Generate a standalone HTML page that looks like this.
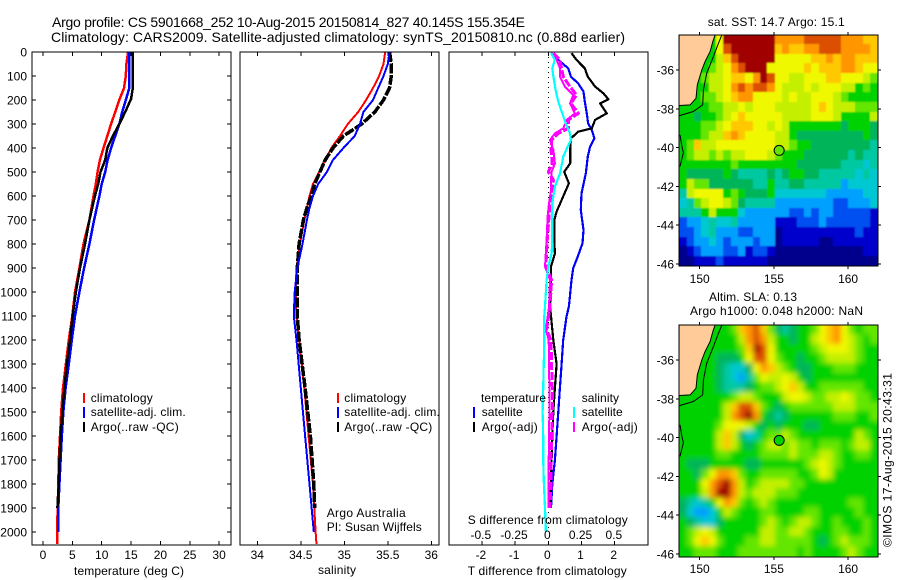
<!DOCTYPE html>
<html>
<head>
<meta charset="utf-8">
<title>Argo profile</title>
<style>
html,body{margin:0;padding:0;background:#fff;width:900px;height:580px;overflow:hidden}
svg{display:block}
text{font-family:"Liberation Sans",sans-serif;font-size:12px;fill:#000}
.t14{font-size:14px}
.frame{fill:none;stroke:#000;stroke-width:1.4;shape-rendering:crispEdges}
.tick{stroke:#000;stroke-width:1;shape-rendering:crispEdges}
.ln{fill:none;shape-rendering:crispEdges;stroke-linejoin:round}
.key{shape-rendering:crispEdges}
</style>
</head>
<body>
<svg id="chart" xmlns="http://www.w3.org/2000/svg" width="900" height="580" viewBox="0 0 900 580">
<defs>
<clipPath id="clipSst"><rect x="679" y="35" width="199" height="231"/></clipPath>
<clipPath id="clipSla"><rect x="679" y="325" width="199" height="232"/></clipPath>
<filter id="softSst" filterUnits="userSpaceOnUse" x="650" y="10" width="250" height="280"><feGaussianBlur stdDeviation="0.7"/></filter>
<filter id="softSla" filterUnits="userSpaceOnUse" x="650" y="300" width="250" height="280"><feGaussianBlur stdDeviation="2.6"/></filter>
</defs>
<rect width="900" height="580" fill="#fff"/>

<text class="t14" x="52" y="27" textLength="473" lengthAdjust="spacing">Argo profile: CS 5901668_252 10-Aug-2015 20150814_827 40.145S 155.354E</text>
<text class="t14" x="51" y="42" textLength="574" lengthAdjust="spacing">Climatology: CARS2009. Satellite-adjusted climatology: synTS_20150810.nc (0.88d earlier)</text>

<g clip-path="url(#clipSst)"><g id="sstCells" filter="url(#softSst)"></g></g>
<g clip-path="url(#clipSla)"><g id="slaCells" filter="url(#softSla)"></g></g>
<g id="sstOver" clip-path="url(#clipSst)"></g>
<g id="slaOver" clip-path="url(#clipSla)"></g>
<g id="ticks"></g>
<g id="marks"></g>
<g id="labels"></g>

<rect class="frame" x="32" y="52" width="199" height="493"/>
<rect class="frame" x="240" y="52" width="199" height="493"/>
<rect class="frame" x="449" y="52" width="199" height="493"/>
<rect class="frame" x="679" y="35" width="199" height="231"/>
<rect class="frame" x="679" y="325" width="199" height="232"/>

<text x="74" y="575" textLength="110">temperature (deg C)</text>
<text x="318" y="574" textLength="38">salinity</text>
<text x="467.7" y="575" textLength="159">T difference from climatology</text>
<text x="467.7" y="524" textLength="160">S difference from climatology</text>

<rect class="key" x="83" y="393" width="2" height="10" fill="#f00"/>
<rect class="key" x="83" y="407" width="2" height="11" fill="#00f"/>
<rect class="key" x="83" y="422" width="2" height="10" fill="#000"/>
<text x="90.7" y="402" textLength="62">climatology</text>
<text x="90.7" y="416" textLength="95">satellite-adj. clim.</text>
<text x="90.7" y="431" textLength="88">Argo(..raw -QC)</text>

<rect class="key" x="337" y="393" width="2" height="10" fill="#f00"/>
<rect class="key" x="337" y="407" width="2" height="11" fill="#00f"/>
<rect class="key" x="337" y="422" width="2" height="10" fill="#000"/>
<text x="344.3" y="402" textLength="62">climatology</text>
<text x="344.3" y="416" textLength="95.6">satellite-adj. clim.</text>
<text x="344.3" y="431" textLength="88">Argo(..raw -QC)</text>
<text x="326.7" y="517" textLength="79">Argo Australia</text>
<text x="326.7" y="531" textLength="95">PI: Susan Wijffels</text>

<text x="481" y="402" textLength="65">temperature</text>
<rect class="key" x="473" y="407" width="2" height="11" fill="#00f"/>
<rect class="key" x="473" y="422" width="2" height="10" fill="#000"/>
<text x="481.7" y="416" textLength="41">satellite</text>
<text x="481.7" y="431" textLength="56">Argo(-adj)</text>
<text x="581.7" y="402" textLength="37.3">salinity</text>
<rect class="key" x="573" y="407" width="2" height="11" fill="#0ff"/>
<rect class="key" x="573" y="422" width="2" height="10" fill="#f0f"/>
<text x="581.7" y="416" textLength="41">satellite</text>
<text x="581.7" y="431" textLength="56">Argo(-adj)</text>

<text x="707.7" y="26" textLength="137">sat. SST: 14.7 Argo: 15.1</text>
<text x="709" y="301" textLength="88">Altim. SLA: 0.13</text>
<text x="690" y="315" textLength="173">Argo h1000: 0.048 h2000: NaN</text>
<text transform="translate(891.5,547) rotate(-90)" textLength="174">©IMOS 17-Aug-2015 20:43:31</text>
</svg>

<script>
// ---------- profile data ----------
const depthTicks = [0,100,200,300,400,500,600,700,800,900,1000,1100,1200,1300,1400,1500,1600,1700,1800,1900,2000];
const tempTicks = [0,5,10,15,20,25,30];
const salTicks = [34,34.5,35,35.5,36];
const tDiffTicks = [-2,-1,0,1,2];
const sDiffTicks = [-0.5,-0.25,0,0.25,0.5];
const sDiffTickText = ['-0.5','-0.25','0','0.25','0.5'];

const tempClimDepth = [0,50,100,150,200,250,300,350,400,450,500,550,600,700,800,900,1000,1100,1200,1300,1400,1500,1600,1700,1800,1900,2000,2050];
const tempClim = [14.5,14.2,14.1,13.8,13.0,12.3,11.6,10.96,10.3,9.7,9.3,9.0,8.6,7.9,6.9,6.2,5.45,4.99,4.4,3.9,3.4,3.1,2.9,2.7,2.6,2.5,2.4,2.4];
const tempSatDepth = [0,50,100,150,200,250,300,350,400,450,500,550,600,700,800,900,1000,1100,1200,1300,1400,1500,1600,1700,1800,1900,2000];
const tempSat = [14.7,14.7,14.7,14.7,14.1,13.5,13.0,12.3,11.6,11.0,10.6,10.0,9.6,8.7,7.9,7.0,6.2,5.45,4.9,4.4,3.85,3.45,3.2,3.0,2.8,2.6,2.6];
const tempArgoDepth = [0,50,100,150,195,250,300,350,400,450,500,550,600,700,800,900,1000,1100,1200,1300,1400,1500,1600,1700,1800,1900];
const tempArgo = [15.3,15.3,15.3,15.3,15.0,14.0,13.0,11.9,10.96,10.6,9.8,9.4,8.85,7.9,7.15,6.3,5.6,5.05,4.6,4.05,3.65,3.3,3.0,2.8,2.7,2.45];

const salClimDepth = [0,50,100,150,200,250,300,350,400,450,500,550,600,650,700,800,900,1000,1100,1200,1400,1600,1800,2000,2050];
const salClim = [35.47,35.45,35.40,35.33,35.25,35.16,35.04,34.95,34.85,34.78,34.71,34.64,34.6,34.57,34.54,34.49,34.45,34.44,34.45,34.48,34.54,34.59,34.64,34.67,34.68];
const salSatDepth = [0,50,100,150,200,250,300,350,400,450,500,550,600,650,700,800,900,1000,1100,1200,1400,1600,1800,2000];
const salSat = [35.52,35.5,35.45,35.39,35.33,35.22,35.18,35.12,34.99,34.87,34.8,34.7,34.64,34.6,34.57,34.52,34.46,34.43,34.42,34.45,34.5,34.55,34.6,34.65];
const salArgoDepth = [0,50,100,150,200,250,300,350,400,450,500,550,600,650,700,800,900,1000,1100,1200,1400,1600,1800,1900];
const salArgo = [35.52,35.54,35.54,35.52,35.45,35.35,35.2,34.99,34.87,34.78,34.72,34.66,34.62,34.57,34.53,34.48,34.46,34.46,34.46,34.48,34.55,34.61,34.65,34.66];

const dTSatDepth = [5,33,68,103,131,165,207,256,297,325,360,394,436,506,589,658,742,797,853,901,950,1061,1100,1200,1300,1400,1500,1600,1700,1800,1900];
const dTSat = [.08,.3,.6,.68,.9,1.06,1.1,1.16,1.2,1.31,1.39,1.26,1.19,1.13,1.0,.98,1.06,1.03,.885,.75,.7,.62,.55,.45,.4,.35,.3,.25,.2,.12,.08];
const dTArgoDepth = [5,33,68,103,144,172,197,214,256,283,318,332,360,408,464,499,547,617,665,700,783,839,894,950,1061,1100,1200,1300,1400,1500,1600,1700,1800,1900];
const dTArgo = [.7,.85,1.1,1.19,1.41,1.66,1.81,1.56,1.76,1.41,1.31,.9,.68,.66,.66,.48,.62,.4,.25,.18,.18,.2,.08,.08,.05,.08,.15,.25,.2,.15,.12,.1,.08,.05];
const dSSatDepth = [5,33,68,103,158,207,256,297,339,367,394,436,506,561,631,686,783,839,894,950,1061,1100,1200,1400,1500,1600,1700,1800,1900,2000];
const dSSat = [.02,.05,.03,.038,.055,.075,.105,.13,.163,.17,.145,.113,.088,.05,.03,.03,.03,.025,0,-.013,-.025,-.03,-.03,-.038,-.043,-.038,-.038,-.033,-.025,-.018];
const dSArgoDepth = [5,33,68,103,144,179,214,256,283,318,339,367,408,464,499,533,575,631,686,783,894,950,1061,1158,1200,1300,1400,1500,1600,1700,1800,1900];
const dSArgo = [.038,.088,.1,.113,.163,.213,.17,.226,.15,.15,.075,.025,.02,.03,0,.038,.03,.013,.005,-.008,-.018,.025,.013,-.013,.02,.025,.03,.03,.025,.02,.02,.013];
const dSArgoRaw = [.025,.063,.088,.088,.125,.188,.163,.2,.138,.113,.05,.013,.038,.05,.025,.02,.02,.005,-.005,-.013,-.025,.013,.005,-.018,.003,.005,.008,.008,.005,.003,.003,0];

// ---------- map data ----------
const mapLonTicks = [150,155,160];
const mapLatTicks = [-36,-38,-40,-42,-44,-46];
const coastLon = [151.04,150.88,150.7,150.36,150.14,149.84,149.75,149.35,148.63];
const coastLat = [-34.2,-34.54,-35.05,-35.57,-36,-36.77,-37.46,-37.8,-37.83];
const isobathLon = [151.49,151.26,150.92,150.47,150.25,150.2,149.57,148.63];
const isobathLat = [-34.2,-34.63,-35.31,-36.17,-37.03,-37.8,-38.14,-38.35];
const isleLon = [148.67,148.8,148.9,148.67];
const isleLat = [-39.34,-39.94,-40.27,-40.97];
const floatLon = 155.354;
const floatLat = -40.145;

const levelColors = ['#00008c','#0000cd','#0050f0','#00a0ff','#00c8d2','#00c8a0','#00b45a','#00d200','#64e600','#c4f000','#f0f800','#ffc800','#ff9600','#dc5000','#a00000'];

const sstLevels = [
[7,7,7,7,7,10,14,14,14,14,14,14,14,12,12,12,12,13,13,13,13,13,12,12,12,11,11],
[7,7,7,7,7,10,13,14,14,14,14,14,14,11,12,11,11,12,12,13,13,13,12,12,12,12,11],
[7,7,7,7,7,9,11,13,14,14,14,14,14,10,10,10,10,10,11,11,12,11,12,12,11,11,11],
[7,7,7,7,8,9,10,12,13,14,14,14,10,10,10,10,10,11,10,11,11,11,12,12,11,10,10],
[7,7,7,8,9,9,10,11,11,10,12,14,13,10,10,9,9,10,10,10,11,11,10,10,10,9,8],
[7,7,7,7,9,9,10,12,13,12,13,13,12,10,9,9,9,10,9,10,10,10,9,9,7,8,7],
[7,7,7,8,8,9,10,11,12,12,10,10,10,10,9,10,9,9,10,10,10,9,8,7,7,7,7],
[7,7,7,7,8,8,9,9,10,9,10,10,10,9,9,9,9,9,10,11,10,9,9,9,8,8,8],
[7,7,6,7,7,8,9,10,11,10,10,10,10,10,9,9,9,9,10,10,10,9,7,7,7,7,9],
[7,7,7,8,8,9,10,11,11,11,10,10,9,10,9,7,7,7,7,7,7,7,6,7,7,7,6],
[7,7,7,8,9,9,11,12,11,10,10,10,10,9,9,7,6,6,6,6,6,6,6,6,6,7,6],
[7,8,11,9,9,10,10,10,10,10,10,10,10,9,9,8,7,7,6,6,6,6,6,6,6,6,5],
[7,8,9,9,8,9,8,9,9,10,10,10,9,8,7,7,7,6,6,6,6,6,6,5,6,5,5],
[7,7,7,7,7,7,7,8,7,7,7,7,7,7,7,7,6,6,6,6,6,6,5,5,5,4,5],
[7,6,6,6,6,6,7,6,5,5,5,5,6,5,6,7,7,6,6,5,5,5,5,5,4,5,4],
[7,9,8,8,6,6,6,6,6,6,5,5,7,5,5,6,6,5,5,5,5,5,3,4,4,4,4],
[5,9,10,10,10,10,7,8,7,6,6,6,7,4,4,4,4,4,4,4,3,3,3,3,3,4,4],
[4,5,8,9,10,10,9,8,6,5,5,5,5,3,3,3,3,3,3,3,3,2,2,3,3,3,4],
[5,5,5,7,9,7,7,7,4,3,3,3,3,3,3,2,2,3,2,3,3,2,2,2,2,2,1],
[2,3,3,4,5,4,4,5,3,3,3,3,3,1,1,1,2,2,2,3,2,2,2,2,2,2,1],
[2,2,3,4,5,3,3,3,2,2,3,3,3,0,1,1,1,1,1,1,1,1,1,1,2,1,1],
[1,2,3,3,4,3,2,3,3,3,2,3,3,0,1,1,1,1,1,0,0,1,1,1,1,1,1],
[0,1,2,3,3,3,2,2,3,1,2,2,1,0,0,0,0,0,0,0,0,0,0,0,0,1,1],
[0,0,1,1,1,2,1,1,1,1,1,1,0,0,0,0,0,0,0,0,0,0,0,0,0,0,0]
];

const slaLevels = [
[7,7,7,7,7,7,7,8,11,12,13,11,8,6,5,6,7,7,8,10,11,12,10,8,7,8,8],
[7,7,7,7,7,7,7,7,9,12,13,12,9,7,7,6,7,7,9,10,11,12,10,9,8,7,8],
[7,7,7,7,7,7,7,7,8,11,14,13,10,7,7,7,7,7,8,9,10,10,10,9,8,7,7],
[7,7,7,7,7,6,6,6,7,10,13,13,10,8,7,7,6,7,7,8,9,9,9,9,8,7,7],
[7,7,7,7,7,6,5,4,4,6,10,12,11,9,8,7,6,6,7,7,7,8,8,8,7,7,7],
[7,7,7,7,7,6,5,4,3,5,8,10,9,9,10,9,7,6,7,7,7,7,7,7,7,7,7],
[7,7,7,7,7,6,5,5,5,6,7,8,8,9,10,11,9,7,7,8,8,8,8,8,8,7,7],
[7,7,7,7,7,7,7,8,9,9,8,7,7,7,9,10,10,9,8,8,9,9,10,9,8,8,7],
[7,7,7,7,7,7,9,11,13,13,11,8,7,6,7,8,8,8,8,8,8,9,9,9,8,8,8],
[7,7,7,7,7,7,9,12,13,14,12,7,6,5,6,7,7,7,7,7,7,8,8,8,7,7,8],
[7,7,7,7,7,8,10,10,10,9,7,6,7,6,7,7,7,6,6,7,7,7,7,7,7,7,7],
[7,7,7,7,7,9,11,9,6,4,5,7,8,8,9,8,7,7,7,7,7,7,7,7,9,8,7],
[7,7,7,7,7,9,11,9,7,6,7,8,9,9,8,9,8,8,7,8,8,8,7,8,9,9,7],
[7,7,7,7,7,8,8,7,7,7,7,8,8,8,8,9,8,8,8,9,9,8,7,7,8,8,7],
[7,6,6,6,7,7,7,7,7,6,6,7,7,7,7,7,7,8,9,10,9,8,7,7,7,7,7],
[7,7,6,8,10,12,12,11,8,7,7,8,8,8,8,8,7,7,8,10,9,7,7,7,7,7,7],
[7,7,7,10,12,13,14,12,9,7,8,9,9,9,9,8,8,7,7,7,7,7,7,7,7,7,7],
[7,7,7,9,12,14,14,12,9,8,9,9,9,8,8,8,7,7,7,7,7,7,7,7,7,7,7],
[6,5,4,5,7,10,12,11,8,7,8,9,8,7,7,7,7,7,7,7,7,7,7,8,8,7,7],
[6,4,3,3,4,7,9,8,7,7,7,8,8,7,7,7,7,8,8,7,7,7,7,7,8,7,7],
[7,6,5,4,4,6,7,7,7,7,7,8,9,8,7,8,9,9,8,7,7,8,7,7,7,8,7],
[7,8,9,10,9,7,7,7,7,7,7,9,9,8,8,9,9,8,7,7,7,8,8,7,7,8,7],
[7,8,10,11,10,8,7,7,7,8,8,9,9,8,8,8,8,8,7,6,7,8,9,8,8,8,7],
[7,7,8,8,8,7,7,7,8,8,8,8,8,8,8,8,7,8,7,7,7,7,8,9,8,7,7]
];

// ---------- axis functions ----------
const NS = 'http://www.w3.org/2000/svg';
const depthY = d => 52 + d * 0.24;
const tempX = t => 43 + t * 5.87;
const salX = s => 257.3 + (s - 34) * 87;
const dTX = t => 548.3 + t * 33.2;
const dSX = s => 548.3 + s * 133;
const lonX = lon => 699.7 + (lon - 150) * 14.84;
const latYTop = lat => 70 + (-36 - lat) * 19.4;
const latYBot = lat => 360 + (-36 - lat) * 19.4;
const LON0 = 148.65, LAT0 = -34.2, LONSTEP = 0.495, LATSTEP = 0.496;

function mk(tag, parent, attrs, text) {
  const el = document.createElementNS(NS, tag);
  for (const k in attrs) el.setAttribute(k, attrs[k]);
  if (text !== undefined) el.textContent = text;
  parent.appendChild(el);
  return el;
}
const ticksG = document.getElementById('ticks');
const labelsG = document.getElementById('labels');
const marksG = document.getElementById('marks');

function line(x1, y1, x2, y2, name) {
  const el = mk('line', ticksG, {x1: x1, y1: y1, x2: x2, y2: y2, 'class': 'tick'});
  
  
}
function label(x, y, str, anchor, name) {
  const el = mk('text', labelsG, {x: x, y: y, 'text-anchor': anchor}, str);
  
  
}
function profile(vals, depths, xf, color, width, name, dash) {
  const pts = vals.map((v, i) => xf(v).toFixed(1) + ',' + depthY(depths[i]).toFixed(1)).join(' ');
  const attrs = {points: pts, 'class': 'ln', stroke: color, 'stroke-width': width};
  if (dash) attrs['stroke-dasharray'] = dash;
  const el = mk('polyline', marksG, attrs);
  
  
}

// depth ticks + labels
depthTicks.forEach(d => {
  const y = depthY(d);
  line(32, y, 36, y, 'depth-tick-left');
  line(231, y, 227, y, 'depth-tick-right');
  label(27, y + 4.5, String(d), 'end', 'depth-tick-label');
});
// x ticks
tempTicks.forEach(t => {
  line(tempX(t), 52, tempX(t), 56, 'temperature-tick-top');
  line(tempX(t), 545, tempX(t), 541, 'temperature-tick-bottom');
  label(tempX(t), 559, String(t), 'middle', 'temperature-tick-label');
});
salTicks.forEach(s => {
  line(salX(s), 52, salX(s), 56, 'salinity-tick-top');
  line(salX(s), 545, salX(s), 541, 'salinity-tick-bottom');
  label(salX(s), 559, String(s), 'middle', 'salinity-tick-label');
});
tDiffTicks.forEach(t => {
  line(dTX(t), 52, dTX(t), 56, 'difference-tick-top');
  line(dTX(t), 545, dTX(t), 541, 'difference-tick-bottom');
  label(dTX(t) - 1, 559, String(t), 'middle', 't-difference-tick-label');
});
sDiffTicks.forEach((s, i) => {
  label(dSX(s) - 1, 539, sDiffTickText[i], 'middle', 's-difference-tick-label');
});

// zero line
const zero = mk('line', marksG, {x1: dTX(0), y1: 52, x2: dTX(0), y2: 532, stroke: '#000', 'stroke-width': 1, 'stroke-dasharray': '1 4', 'shape-rendering': 'crispEdges'});



// profile series
profile(tempClim, tempClimDepth, tempX, '#f00', 2.5, 'temperature-climatology-line');
profile(tempSat, tempSatDepth, tempX, '#00f', 2.5, 'temperature-satellite-line');
profile(tempArgo, tempArgoDepth, tempX, '#000', 2.5, 'temperature-argo-line');
profile(salClim, salClimDepth, salX, '#f00', 2, 'salinity-climatology-line');
profile(salArgo, salArgoDepth, salX, '#000', 3.5, 'salinity-argo-line', '10 1.5');
profile(salSat, salSatDepth, salX, '#00f', 2, 'salinity-satellite-line');
profile(dTSat, dTSatDepth, dTX, '#00f', 2.2, 't-difference-satellite-line');
profile(dTArgo, dTArgoDepth, dTX, '#000', 2.2, 't-difference-argo-line');
profile(dSArgoRaw, dSArgoDepth, dSX, '#f0f', 2, 's-difference-argo-raw-line');
profile(dSArgo, dSArgoDepth, dSX, '#f0f', 3, 's-difference-argo-line', '8 2');
profile(dSSat, dSSatDepth, dSX, '#0ff', 2.2, 's-difference-satellite-line');

// maps
function drawCells(levels, gid, latY, name) {
  const g = document.getElementById(gid);
  const nr = levels.length;
  levels.forEach((row, r) => {
    const nc = row.length;
    row.forEach((v, c) => {
      let x0 = lonX(LON0 + c * LONSTEP), x1 = lonX(LON0 + (c + 1) * LONSTEP);
      let y0 = latY(LAT0 - r * LATSTEP), y1 = latY(LAT0 - (r + 1) * LATSTEP);
      if (c === 0) x0 -= 10;
      if (c === nc - 1) x1 += 10;
      if (r === 0) y0 -= 10;
      if (r === nr - 1) y1 += 10;
      const el = mk('rect', g, {x: Math.floor(x0), y: Math.floor(y0), width: Math.ceil(x1) - Math.floor(x0), height: Math.ceil(y1) - Math.floor(y0), fill: levelColors[v], 'shape-rendering': 'crispEdges'});
      
      
    });
  });
}
drawCells(sstLevels, 'sstCells', latYTop, 'sst-cell');
drawCells(slaLevels, 'slaCells', latYBot, 'sla-cell');

function drawOverlay(gid, latY, circleFill, prefix) {
  const g = document.getElementById(gid);
  const landPts = coastLon.map((lon, i) => lonX(lon).toFixed(1) + ',' + latY(coastLat[i]).toFixed(1));
  landPts.push(lonX(LON0).toFixed(1) + ',' + latY(LAT0).toFixed(1));
  const land = mk('polygon', g, {points: landPts.join(' '), fill: '#ffcc99'});
  
  
  const coastEl = mk('polyline', g, {points: coastLon.map((lon, i) => lonX(lon).toFixed(1) + ',' + latY(coastLat[i]).toFixed(1)).join(' '), fill: 'none', stroke: '#000', 'stroke-width': 1});
  
  
  const iso = mk('polyline', g, {points: isobathLon.map((lon, i) => lonX(lon).toFixed(1) + ',' + latY(isobathLat[i]).toFixed(1)).join(' '), fill: 'none', stroke: '#000', 'stroke-width': 1});
  
  
  const isle = mk('polyline', g, {points: isleLon.map((lon, i) => lonX(lon).toFixed(1) + ',' + latY(isleLat[i]).toFixed(1)).join(' '), fill: 'none', stroke: '#000', 'stroke-width': 1});
  
  
  const dot = mk('circle', g, {cx: lonX(floatLon), cy: latY(floatLat), r: 5, fill: circleFill, stroke: '#000', 'stroke-width': 1});
  
  
}
drawOverlay('sstOver', latYTop, levelColors[8], 'sst');
drawOverlay('slaOver', latYBot, levelColors[7], 'sla');

function mapAxes(latY, top, bottom, labelBase, prefix) {
  mapLonTicks.forEach(lon => {
    line(lonX(lon), top, lonX(lon), top - 3, prefix + '-lon-tick-top');
    line(lonX(lon), bottom, lonX(lon), bottom + 3, prefix + '-lon-tick-bottom');
    label(lonX(lon), labelBase, String(lon), 'middle', prefix + '-lon-tick-label');
  });
  mapLatTicks.forEach(lat => {
    line(679, latY(lat), 676, latY(lat), prefix + '-lat-tick-left');
    line(878, latY(lat), 881, latY(lat), prefix + '-lat-tick-right');
    label(674, latY(lat) + 4.5, String(lat), 'end', prefix + '-lat-tick-label');
  });
}
mapAxes(latYTop, 35, 266, 283, 'sst');
mapAxes(latYBot, 325, 557, 573, 'sla');
</script>
</body>
</html>
